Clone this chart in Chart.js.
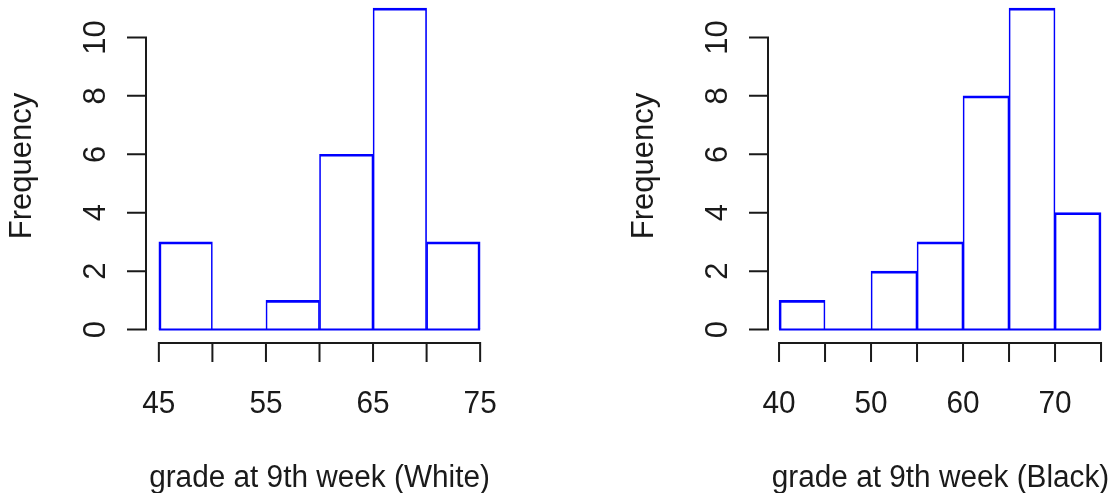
<!DOCTYPE html>
<html lang="en">
<head>
<meta charset="UTF-8">
<title>grade at 9th week</title>
<script src="https://cdn.jsdelivr.net/npm/chart.js@4.4.0/dist/chart.umd.min.js"></script>
<style>
    body { margin: 0; background: #fff; }
    .panel { position: absolute; top: 0; }
</style>
</head>
<body>
<div class="panel" style="left:0"><canvas id="whiteChart" width="556" height="493"></canvas></div>
<div class="panel" style="left:556px"><canvas id="blackChart" width="557" height="493"></canvas></div>
<script>
    // histogram bins (left edge of each bin) and counts
    const binWidth = 5
    const whiteBins = [45, 50, 55, 60, 65, 70]
    const whiteCounts = [3, 0, 1, 6, 11, 3]
    const blackBins = [40, 45, 50, 55, 60, 65, 70]
    const blackCounts = [1, 0, 2, 3, 8, 11, 4]

    // axis ticks and the labels R kept
    const whiteXTicks = [45, 50, 55, 60, 65, 70, 75]
    const whiteXLabels = [45, 55, 65, 75]
    const blackXTicks = [40, 45, 50, 55, 60, 65, 70, 75]
    const blackXLabels = [40, 50, 60, 70]
    const yTicks = [0, 2, 4, 6, 8, 10]

    const yTitle = 'Frequency'
    const whiteTitle = 'grade at 9th week (White)'
    const blackTitle = 'grade at 9th week (Black)'

    const FONT = '"Liberation Sans", Arial, sans-serif'
    const INK = '#1a1a1a'

    // horizontal text a touch narrower, like the reference
    function hText(ctx, s, x, y, sx) {
        ctx.save()
        ctx.translate(x, y)
        ctx.scale(sx, 1)
        ctx.fillText(s, 0, 0)
        ctx.restore()
    }

    // base-R style axes: detached, only as long as the tick range, rotated y labels
    const rAxes = {
        id: 'rAxes',
        afterDraw(chart, args, opts) {
            const ctx = chart.ctx
            const xs = chart.scales.x
            const ys = chart.scales.y
            const area = chart.chartArea
            ctx.save()
            ctx.strokeStyle = INK
            ctx.fillStyle = INK
            ctx.lineWidth = 2
            ctx.lineCap = 'square'
            ctx.font = opts.fontSize + 'px ' + FONT

            // y axis
            const ax = area.left
            ctx.beginPath()
            ctx.moveTo(ax, ys.getPixelForValue(opts.yTicks[0]))
            ctx.lineTo(ax, ys.getPixelForValue(opts.yTicks[opts.yTicks.length - 1]))
            opts.yTicks.forEach(v => {
                const p = ys.getPixelForValue(v)
                ctx.moveTo(ax, p)
                ctx.lineTo(ax - opts.tickLen, p)
            })
            ctx.stroke()
            ctx.textAlign = 'center'
            ctx.textBaseline = 'middle'
            opts.yTicks.forEach(v => {
                ctx.save()
                ctx.translate(ax - opts.yLabelGap, ys.getPixelForValue(v))
                ctx.rotate(-Math.PI / 2)
                ctx.fillText(String(v), 0, 0)
                ctx.restore()
            })
            ctx.save()
            ctx.translate(ax - opts.yTitleGap, opts.yTitleY)
            ctx.rotate(-Math.PI / 2)
            ctx.fillText(opts.yTitle, 0, 0)
            ctx.restore()

            // x axis
            const ay = area.bottom
            ctx.beginPath()
            ctx.moveTo(xs.getPixelForValue(opts.xTicks[0]), ay)
            ctx.lineTo(xs.getPixelForValue(opts.xTicks[opts.xTicks.length - 1]), ay)
            opts.xTicks.forEach(v => {
                const p = xs.getPixelForValue(v)
                ctx.moveTo(p, ay)
                ctx.lineTo(p, ay + opts.tickLen)
            })
            ctx.stroke()
            ctx.textBaseline = 'alphabetic'
            opts.xLabels.forEach(v => {
                hText(ctx, String(v), xs.getPixelForValue(v), ay + opts.xLabelGap, opts.squeeze)
            })
            hText(ctx, opts.xTitle, (area.left + area.right) / 2, ay + opts.xTitleGap, opts.squeeze)
            ctx.restore()
        }
    }

    function histogram(id, bins, counts, xTicks, xLabels, xTitle, xMin, xMax, padLeft, padRight) {
        const last = bins.length - 1
        return new Chart(document.getElementById(id), {
            type: 'bar',
            data: {
                datasets: [{
                    data: bins.map((b, i) => ({ x: b + binWidth / 2, y: counts[i] })),
                    backgroundColor: 'rgba(255,255,255,0)',
                    borderColor: '#0000ff',
                    borderSkipped: false,
                    borderWidth: c => ({
                        top: 2, bottom: 0,
                        left: c.dataIndex === 0 ? 2 : 1,
                        right: c.dataIndex === last ? 2 : 1
                    }),
                    barPercentage: 1,
                    categoryPercentage: 1
                }, {
                    // baseline under the bins, empty bins included
                    type: 'line',
                    data: [{ x: bins[0], y: 0 }, { x: bins[last] + binWidth, y: 0 }],
                    borderColor: '#0000ff',
                    borderWidth: 2,
                    pointRadius: 0
                }]
            },
            options: {
                responsive: false,
                animation: false,
                events: [],
                layout: { padding: { left: padLeft, right: padRight, top: 0, bottom: 150 } },
                scales: {
                    x: {
                        type: 'linear', display: false, offset: false, min: xMin, max: xMax,
                        afterBuildTicks: s => { s.ticks = xTicks.map(v => ({ value: v })) }
                    },
                    y: {
                        type: 'linear', display: false, min: -0.46, max: 11.28,
                        afterBuildTicks: s => { s.ticks = yTicks.map(v => ({ value: v })) }
                    }
                },
                plugins: {
                    legend: { display: false },
                    tooltip: { enabled: false },
                    rAxes: {
                        fontSize: 31, squeeze: 0.96, tickLen: 18,
                        yTicks: yTicks, xTicks: xTicks, xLabels: xLabels,
                        yLabelGap: 50, yTitleGap: 124, yTitleY: 166, yTitle: yTitle,
                        xLabelGap: 70, xTitleGap: 144, xTitle: xTitle
                    }
                }
            },
            plugins: [rAxes]
        })
    }

    histogram('whiteChart', whiteBins, whiteCounts, whiteXTicks, whiteXLabels, whiteTitle, 43.8, 76.2, 146, 63)
    histogram('blackChart', blackBins, blackCounts, blackXTicks, blackXLabels, blackTitle, 38.8, 76.3, 212, 0)
</script>
</body>
</html>
